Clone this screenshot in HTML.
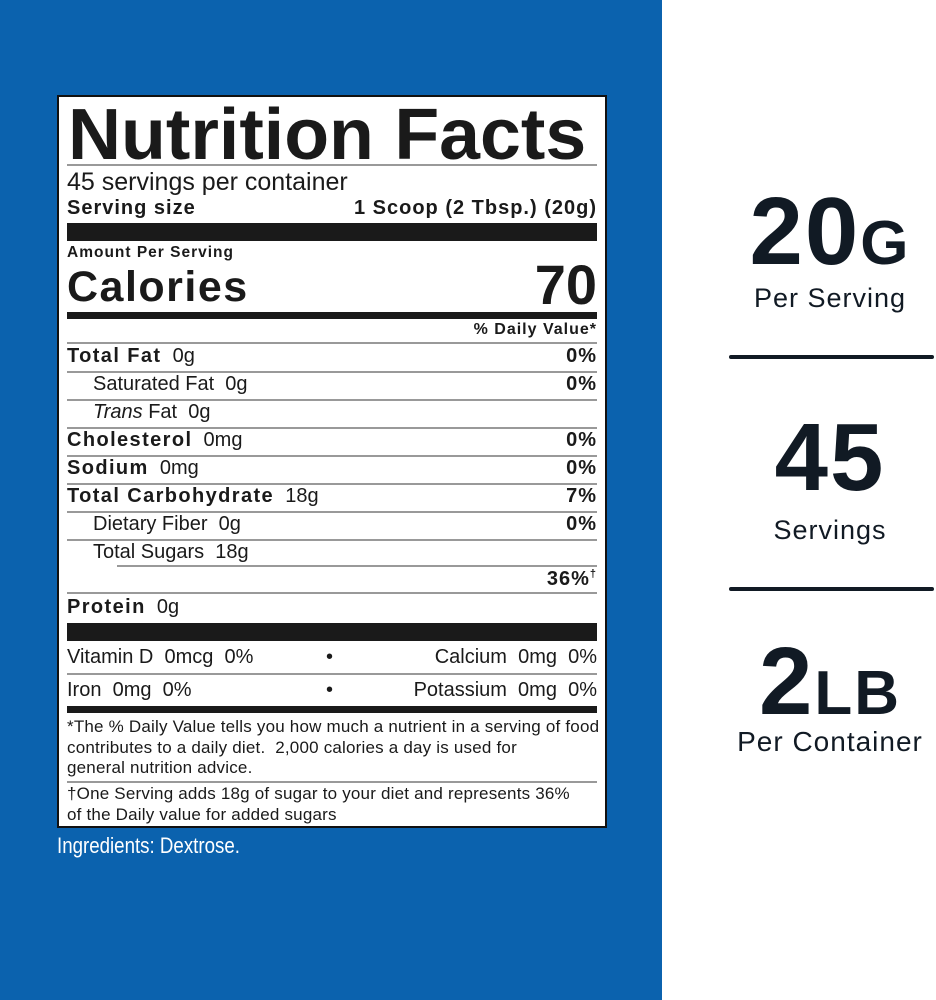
<!DOCTYPE html>
<html><head><style>
body{margin:0;width:936px;height:1000px;position:relative;background:#fff;font-family:"Liberation Sans",Arial,sans-serif;overflow:hidden}
.blue{position:absolute;left:0;top:0;width:662px;height:1000px;background:#0b62ae}
.box{position:absolute;left:57px;top:95px;width:546px;height:729px;background:#fff;border:2px solid #111}
.t{position:absolute;white-space:nowrap;color:#1a1a1a;line-height:1}
.t b{letter-spacing:1.4px}
.b{font-weight:bold;letter-spacing:1px}
.hl{position:absolute;left:67px;width:530px;background:#999;height:1.5px}
.bar{position:absolute;left:67px;width:530px;background:#1a1a1a}
.rt{position:absolute;left:700px;width:260px;text-align:center;color:#111a24;white-space:nowrap;line-height:1}
.big{font-weight:bold;font-size:96px;letter-spacing:2px}
.sub{font-size:27px;letter-spacing:1px}
.dl{position:absolute;left:729px;width:205px;height:4px;background:#111a24;border-radius:2px}
</style></head><body>
<div class="blue"></div>
<div class="box"></div>
<div class="t" style="font-weight:bold;left:68px;top:99px;font-size:72px;transform:scaleX(1.02);transform-origin:left">Nutrition Facts</div>
<div class="hl" style="top:164px"></div>
<div class="t" style="left:67px;top:170px;font-size:25px">45 servings per container</div>
<div class="t b" style="left:67px;top:198px;font-size:20px">Serving size</div>
<div class="t b" style="right:339px;top:198px;font-size:20px">1 Scoop (2 Tbsp.) (20g)</div>
<div class="bar" style="top:223px;height:18px"></div>
<div class="t b" style="left:67px;top:245px;font-size:15.5px">Amount Per Serving</div>
<div class="t b" style="left:67px;top:266px;font-size:43px;letter-spacing:1.5px">Calories</div>
<div class="t b" style="right:339px;top:257px;font-size:56px;letter-spacing:0">70</div>
<div class="bar" style="top:312px;height:7px"></div>
<div class="t b" style="right:339px;top:322px;font-size:16px">% Daily Value*</div>
<div class="hl" style="top:342px"></div>

<div class="t" style="left:67px;top:346px;font-size:20px"><b>Total Fat</b>&nbsp; 0g</div><div class="t b" style="right:339px;top:346px;font-size:20px">0%</div>
<div class="hl" style="top:371px"></div>
<div class="t" style="left:93px;top:374px;font-size:20px">Saturated Fat&nbsp; 0g</div><div class="t b" style="right:339px;top:374px;font-size:20px">0%</div>
<div class="hl" style="top:399px"></div>
<div class="t" style="left:93px;top:402px;font-size:20px"><i>Trans</i> Fat&nbsp; 0g</div>
<div class="hl" style="top:427px"></div>
<div class="t" style="left:67px;top:430px;font-size:20px"><b>Cholesterol</b>&nbsp; 0mg</div><div class="t b" style="right:339px;top:430px;font-size:20px">0%</div>
<div class="hl" style="top:455px"></div>
<div class="t" style="left:67px;top:458px;font-size:20px"><b>Sodium</b>&nbsp; 0mg</div><div class="t b" style="right:339px;top:458px;font-size:20px">0%</div>
<div class="hl" style="top:483px"></div>
<div class="t" style="left:67px;top:486px;font-size:20px"><b>Total Carbohydrate</b>&nbsp; 18g</div><div class="t b" style="right:339px;top:486px;font-size:20px">7%</div>
<div class="hl" style="top:511px"></div>
<div class="t" style="left:93px;top:514px;font-size:20px">Dietary Fiber&nbsp; 0g</div><div class="t b" style="right:339px;top:514px;font-size:20px">0%</div>
<div class="hl" style="top:539px"></div>
<div class="t" style="left:93px;top:542px;font-size:20px">Total Sugars&nbsp; 18g</div>
<div class="hl" style="top:565px;left:117px;width:480px"></div>
<div class="t b" style="right:339px;top:569px;font-size:20px">36%<sup style="font-size:11px;vertical-align:8px">†</sup></div>
<div class="hl" style="top:592px"></div>
<div class="t" style="left:67px;top:597px;font-size:20px"><b>Protein</b>&nbsp; 0g</div>
<div class="bar" style="top:623px;height:18px"></div>
<div class="t" style="left:67px;top:647px;font-size:20px">Vitamin D&nbsp; 0mcg&nbsp; 0%</div>
<div class="t" style="left:326px;top:647px;font-size:20px">•</div>
<div class="t" style="right:339px;top:647px;font-size:20px">Calcium&nbsp; 0mg&nbsp; 0%</div>
<div class="hl" style="top:673px"></div>
<div class="t" style="left:67px;top:680px;font-size:20px">Iron&nbsp; 0mg&nbsp; 0%</div>
<div class="t" style="left:326px;top:680px;font-size:20px">•</div>
<div class="t" style="right:339px;top:680px;font-size:20px">Potassium&nbsp; 0mg&nbsp; 0%</div>
<div class="bar" style="top:706px;height:7px"></div>
<div class="t" style="left:67px;top:717px;font-size:17px;line-height:20.5px;letter-spacing:0.2px">*The % Daily Value tells you how much a nutrient in a serving of food<br>contributes to a daily diet.&nbsp; 2,000 calories a day is used for<br>general nutrition advice.</div>
<div class="hl" style="top:781px"></div>
<div class="t" style="left:67px;top:784px;font-size:17px;line-height:20.5px;letter-spacing:0.2px">†One Serving adds 18g of sugar to your diet and represents 36%<br>of the Daily value for added sugars</div>
<div class="t" style="left:57px;top:835px;font-size:22px;color:#fff;transform:scaleX(0.85);transform-origin:left">Ingredients: Dextrose.</div>

<div class="rt big" style="top:184px">20<span style="font-size:62px">G</span></div>
<div class="rt sub" style="top:285px">Per Serving</div>
<div class="dl" style="top:355px"></div>
<div class="rt big" style="top:410px">45</div>
<div class="rt sub" style="top:517px">Servings</div>
<div class="dl" style="top:587px"></div>
<div class="rt big" style="top:634px">2<span style="font-size:62px">LB</span></div>
<div class="rt sub" style="top:728px;font-size:28px">Per Container</div>
</body></html>
